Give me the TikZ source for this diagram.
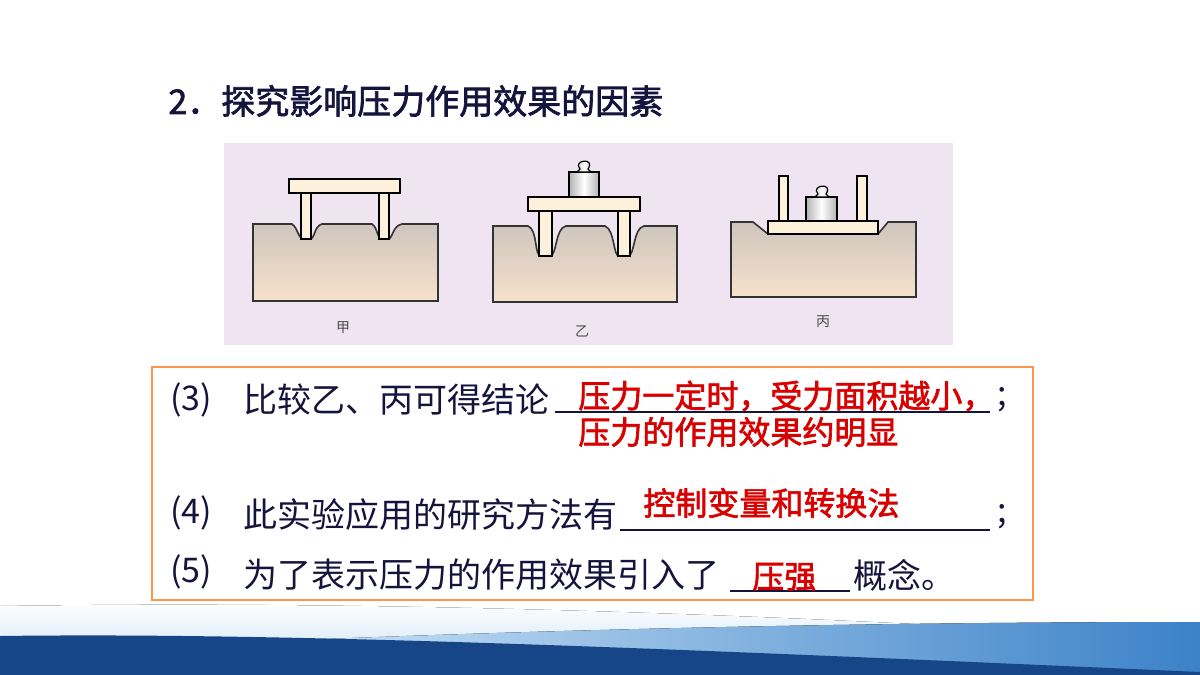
\documentclass[tikz,border=0pt]{standalone}
\usepackage{fontspec}
\newfontfamily\cjk{Noto Sans CJK SC}
\newfontfamily\cjkb{Noto Sans CJK SC}[FakeBold=2]
\definecolor{navy}{RGB}{22,70,135}
\definecolor{mid}{RGB}{60,130,200}
\definecolor{pale}{RGB}{200,225,245}
\definecolor{panel}{RGB}{240,228,242}
\definecolor{ink}{RGB}{20,20,60}
\begin{document}
\begin{tikzpicture}[x=0.5pt,y=-0.5pt,
  txt/.style={anchor=west,inner sep=0,font=\cjk\fontsize{17}{19}\selectfont,text=ink},
  red/.style={anchor=west,inner sep=0,font=\cjkb\fontsize{16}{19}\selectfont,text=red!85!black},
  lbl/.style={inner sep=0,font=\cjk\fontsize{7}{8}\selectfont,text=black!70},
  wood/.style={fill=yellow!15!orange!12,draw=black,line width=0.8pt},
  ground/.style={top color=brown!30!gray!45,bottom color=brown!15!white!90!orange,draw=black!80,line width=0.8pt},
  wgt/.style={left color=gray!60,right color=gray!60,middle color=white,draw=black,line width=0.6pt},
  ul/.style={draw=ink,line width=0.8pt}]
\useasboundingbox (0,0) rectangle (1200,675);
\fill[white] (0,0) rectangle (1200,675);
% bottom waves
\fill[top color=white,bottom color=pale] (0,606) .. controls (400,600) and (800,615) .. (1200,640) -- (1200,675) -- (0,675) -- cycle;
\fill[left color=pale,right color=mid] (300,640) .. controls (600,628) and (900,622) .. (1200,622) -- (1200,675) -- (300,675) -- cycle;
\fill[navy] (0,636) .. controls (300,632) and (700,650) .. (1200,672) -- (1200,675) -- (0,675) -- cycle;
% title
\node[anchor=west,inner sep=0,font=\cjkb\fontsize{17}{19}\selectfont,text=ink] (title) at (168,101) {2．探究影响压力作用效果的因素};
% picture panel
\fill[panel] (224,143) rectangle (953,345);
% jia
\draw[ground] (253,224) -- (292,224) .. controls (298,228) and (298,239) .. (304,239) -- (310,239) .. controls (315,239) and (314,226) .. (322,224) -- (372,224) .. controls (378,228) and (377,239) .. (382,239) -- (388,239) .. controls (393,239) and (392,226) .. (402,224) -- (438,224) -- (438,301) -- (253,301) -- cycle;
\draw[wood] (301,193) rectangle (311,239);
\draw[wood] (379,193) rectangle (389,239);
\draw[wood] (289,179) rectangle (400,193);
\node[lbl] (l1) at (343,328) {甲};
% yi
\draw[ground] (493,226) -- (528,226) .. controls (538,230) and (534,256) .. (541,256) -- (550,256) .. controls (557,256) and (555,228) .. (566,226) -- (605,226) .. controls (615,230) and (613,256) .. (619,256) -- (628,256) .. controls (635,256) and (633,228) .. (644,226) -- (677,226) -- (677,302) -- (493,302) -- cycle;
\draw[wood] (539,211) rectangle (552,256);
\draw[wood] (618,211) rectangle (630,256);
\draw[wood] (528,197) rectangle (640,211);
\draw[wgt] (569,197) rectangle (599,172);
\draw[wgt] (577,172) -- (580,169) .. controls (572,160) and (596,157) .. (588,169) -- (591,172) -- cycle;
\node[lbl] (l2) at (582,331) {乙};
% bing
\draw[ground] (731,222) -- (753,222) -- (768,234) -- (878,234) -- (888,222) -- (916,222) -- (916,297) -- (731,297) -- cycle;
\draw[wood] (779,176) rectangle (788,221);
\draw[wood] (857,176) rectangle (867,221);
\draw[wood] (768,221) rectangle (878,234);
\draw[wgt] (806,221) rectangle (837,197);
\draw[wgt] (815,197) -- (818,194) .. controls (810,185) and (834,182) .. (826,194) -- (829,197) -- cycle;
\node[lbl] (l3) at (823,322) {丙};
% orange box
\draw[orange!80!red!70,line width=1.3pt] (152,367) rectangle (1033,600);
% (3)
\node[txt] (n3) at (170,400) {(3)};
\node[txt] (t3) at (243,400) {比较乙、丙可得结论};
\draw[ul] (555,412) -- (990,412);
\node[txt] (s3) at (997,400) {;};
\node[red] (r3a) at (578,396) {压力一定时，受力面积越小，};
\node[red] (r3b) at (578,432) {压力的作用效果约明显};
% (4)
\node[txt] (n4) at (170,513) {(4)};
\node[txt] (t4) at (243,515) {此实验应用的研究方法有};
\draw[ul] (620,530) -- (990,530);
\node[txt] (s4) at (997,517) {;};
\node[red] (r4) at (643,503) {控制变量和转换法};
% (5)
\node[txt] (n5) at (170,572) {(5)};
\node[txt] (t5) at (243,575) {为了表示压力的作用效果引入了};
\draw[ul] (730,591) -- (850,591);
\node[red] (r5) at (752,577) {压强};
\node[txt] (e5) at (853,575) {概念。};
\end{tikzpicture}
\end{document}
